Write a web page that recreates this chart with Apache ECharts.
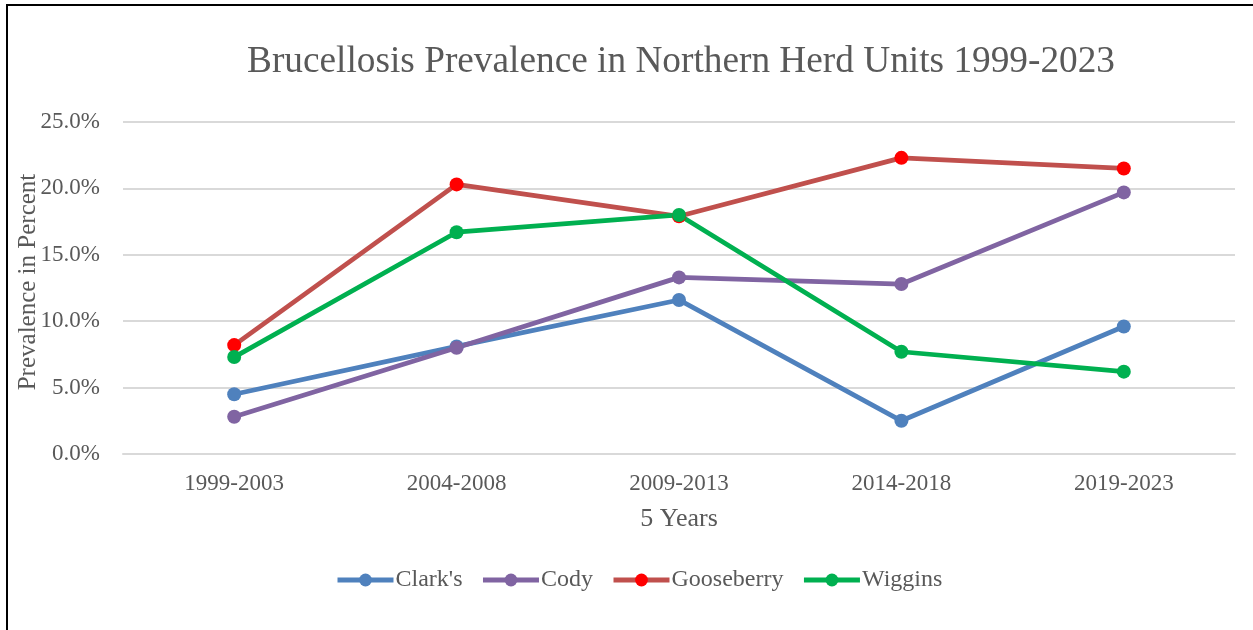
<!DOCTYPE html>
<html>
<head>
<meta charset="utf-8">
<script src="https://cdn.jsdelivr.net/npm/echarts@6/dist/echarts.min.js"></script>
<style>
html,body{margin:0;padding:0;background:#fff;}
#chart{width:1253px;height:630px;position:absolute;left:0;top:0;}
#frame{position:absolute;left:6px;top:4px;width:1260px;height:640px;border-left:2px solid #000;border-top:2px solid #000;pointer-events:none;}
</style>
</head>
<body>
<div id="chart"></div>
<div id="frame"></div>
<script>
const categories = ['1999-2003', '2004-2008', '2009-2013', '2014-2018', '2019-2023'];
const clarks = [4.5, 8.1, 11.6, 2.5, 9.6];
const cody = [2.8, 8.0, 13.3, 12.8, 19.7];
const gooseberry = [8.2, 20.3, 17.9, 22.3, 21.5];
const wiggins = [7.3, 16.7, 18.0, 7.7, 6.2];
const yTicks = [0, 5, 10, 15, 20, 25];

const font = '"Liberation Serif", "Times New Roman", serif';
const txt = '#595959';

function line(name, data, lineColor, markerColor) {
  return {
    name: name, type: 'line', data: data,
    symbol: 'circle', symbolSize: 14,
    lineStyle: {width: 4.75, color: lineColor},
    itemStyle: {color: markerColor},
    color: lineColor,
    z: 2
  };
}

const chart = echarts.init(document.getElementById('chart'), null, {renderer: 'canvas'});
chart.setOption({
  animation: false,
  backgroundColor: '#fff',
  title: {
    text: 'Brucellosis Prevalence in Northern Herd Units 1999-2023',
    left: 676, top: 39, textAlign: 'center',
    textStyle: {fontFamily: font, fontSize: 37.3, fontWeight: 'normal', color: txt}
  },
  legend: {
    top: 563, left: 330,
    itemWidth: 56, itemHeight: 16, itemGap: 18,
    textStyle: {fontFamily: font, fontSize: 24, color: txt, padding: [0,0,0,-3]},
    data: [
      {name: "Clark's", itemStyle: {color: '#4F81BD'}, lineStyle: {color: '#4F81BD', width: 5}},
      {name: 'Cody', itemStyle: {color: '#8064A2'}, lineStyle: {color: '#8064A2', width: 5}},
      {name: 'Gooseberry', itemStyle: {color: '#FF0000'}, lineStyle: {color: '#C0504D', width: 5}},
      {name: 'Wiggins', itemStyle: {color: '#00B050'}, lineStyle: {color: '#00B050', width: 5}}
    ]
  },
  grid: {left: 123, right: 18, top: 122, bottom: 176, containLabel: false, outerBoundsMode: 'none'},
  xAxis: {
    type: 'category', data: categories, boundaryGap: true,
    name: '5 Years', nameLocation: 'middle', nameGap: 52, nameMoveOverlap: false,
    nameTextStyle: {fontFamily: font, fontSize: 26, color: txt},
    axisLine: {show: true, lineStyle: {color: '#D9D9D9', width: 2}},
    axisTick: {show: false},
    axisLabel: {fontFamily: font, fontSize: 23, color: txt, margin: 18}
  },
  yAxis: {
    type: 'value', min: 0, max: 25, interval: 5,
    name: 'Prevalence in Percent', nameLocation: 'middle', nameGap: 82, nameRotate: 90,
    nameMoveOverlap: false,
    nameTextStyle: {fontFamily: font, fontSize: 25, color: txt, padding: [0, 0, 0, 12]},
    axisLine: {show: false}, axisTick: {show: false},
    splitLine: {lineStyle: {color: '#D9D9D9', width: 2}},
    axisLabel: {fontFamily: font, fontSize: 23, color: txt, margin: 23,
      formatter: v => v.toFixed(1) + '%'}
  },
  series: [
    line("Clark's", clarks, '#4F81BD', '#4F81BD'),
    line('Cody', cody, '#8064A2', '#8064A2'),
    line('Gooseberry', gooseberry, '#C0504D', '#FF0000'),
    line('Wiggins', wiggins, '#00B050', '#00B050')
  ]
});
</script>
</body>
</html>
